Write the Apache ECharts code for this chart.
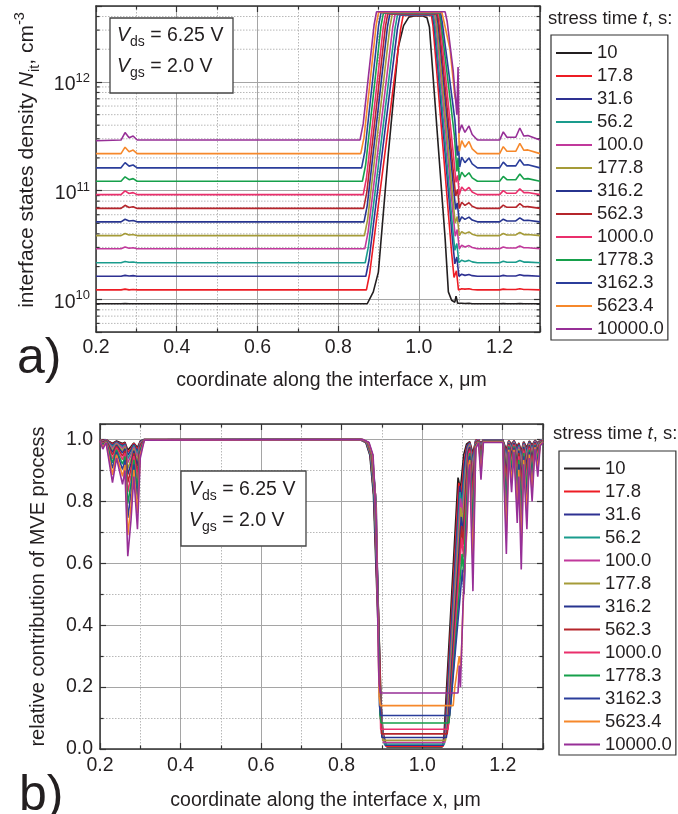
<!DOCTYPE html>
<html><head><meta charset="utf-8">
<script src="https://cdn.jsdelivr.net/npm/echarts@6/dist/echarts.min.js"></script>
<style>html,body{margin:0;padding:0;background:#fff}#c{width:678px;height:814px}</style>
</head><body><div id="c"></div>
<script>
// ---------- categories / legend ----------
const stressTimes = ['10','17.8','31.6','56.2','100.0','177.8','316.2','562.3','1000.0','1778.3','3162.3','5623.4','10000.0'];
const seriesColors = ['#231f20','#ed1c24','#2e3192','#1a9c8d','#c1399c','#a59b38','#27348f','#b5252b','#ea2f6c','#16a04b','#2b3e9b','#f6882b','#972f97'];

// ---------- panel a): interface states density ----------
const nitLeftX = [0.2, 0.262, 0.272, 0.282, 0.292, 0.302];
const nitRightX = [1.106, 1.114, 1.124, 1.132, 1.145, 1.2, 1.209, 1.218, 1.24, 1.25, 1.26, 1.27, 1.3];
const nitMinorTicks = [6e9,7e9,8e9,9e9,2e10,3e10,4e10,5e10,6e10,7e10,8e10,9e10,2e11,3e11,4e11,5e11,6e11,7e11,8e11,9e11,2e12,3e12,4e12];

const nit10Left = [9.1e9,9.1e9,9.15e9,9.1e9,9.1e9,9.1e9];
const nit10Mid = [[0.872,9.1e9],[0.887,1.17e10],[0.8996,1.78e10],[0.924,2.14e11],[0.949,2.1e12],[0.962,3.3e12],[0.975,3.95e12],[0.99,4.06e12],[1.01,4.05e12],[1.02,3.9e12],[1.026,3.2e12],[1.065,3.6e10],[1.073,1.17e10],[1.081,9.8e9],[1.089,9.4e9],[1.092,1.07e10],[1.096,9.2e9]];
const nit10Right = [9.2e9,9.15e9,9.2e9,9.1e9,9.1e9,9.1e9,9.15e9,9.1e9,9.1e9,9.15e9,9.1e9,9.1e9,9.1e9];

const nit17Left = [1.22e10,1.22e10,1.24e10,1.22e10,1.23e10,1.22e10];
const nit17Mid = [[0.87,1.22e10],[0.878,1.72e10],[0.955,3.11e12],[0.961,4.1e12],[1.031,4.1e12],[1.035,3.26e12],[1.081,2.68e10],[1.087,1.59e10],[1.093,1.83e10],[1.098,1.22e10]];
const nit17Right = [1.25e10,1.24e10,1.25e10,1.23e10,1.22e10,1.22e10,1.24e10,1.23e10,1.23e10,1.25e10,1.23e10,1.23e10,1.22e10];

const nit31Left = [1.63e10,1.63e10,1.66e10,1.64e10,1.65e10,1.63e10];
const nit31Mid = [[0.8685,1.63e10],[0.8765,2.3e10],[0.947,3.13e12],[0.953,4.12e12],[1.034,4.12e12],[1.038,3.27e12],[1.083,3.59e10],[1.089,2.12e10],[1.094,2.45e10],[1.099,1.63e10]];
const nit31Right = [1.7e10,1.66e10,1.69e10,1.65e10,1.63e10,1.63e10,1.66e10,1.64e10,1.64e10,1.68e10,1.65e10,1.65e10,1.63e10];

const nit56Left = [2.17e10,2.17e10,2.23e10,2.19e10,2.2e10,2.17e10];
const nit56Mid = [[0.867,2.17e10],[0.875,3.07e10],[0.941,3.15e12],[0.947,4.15e12],[1.036,4.15e12],[1.04,3.3e12],[1.083,4.77e10],[1.089,2.82e10],[1.094,3.26e10],[1.099,2.17e10]];
const nit56Right = [2.29e10,2.23e10,2.28e10,2.21e10,2.17e10,2.17e10,2.24e10,2.19e10,2.19e10,2.27e10,2.2e10,2.2e10,2.17e10];

const nit100Left = [2.92e10,2.92e10,3.03e10,2.95e10,2.98e10,2.92e10];
const nit100Mid = [[0.866,2.92e10],[0.874,4.13e10],[0.935,3.17e12],[0.941,4.18e12],[1.039,4.18e12],[1.043,3.32e12],[1.084,6.42e10],[1.09,3.8e10],[1.095,4.38e10],[1.1,2.92e10]];
const nit100Right = [3.14e10,3.03e10,3.12e10,3.0e10,2.92e10,2.92e10,3.03e10,2.96e10,2.96e10,3.09e10,2.98e10,2.98e10,2.92e10];

const nit178Left = [3.85e10,3.85e10,4.03e10,3.9e10,3.94e10,3.85e10];
const nit178Mid = [[0.865,3.85e10],[0.873,5.44e10],[0.928,3.19e12],[0.934,4.2e12],[1.041,4.2e12],[1.045,3.34e12],[1.084,8.47e10],[1.09,5.0e10],[1.095,5.78e10],[1.1,3.85e10]];
const nit178Right = [4.2e10,4.02e10,4.17e10,3.97e10,3.85e10,3.85e10,4.03e10,3.91e10,3.91e10,4.12e10,3.94e10,3.95e10,3.85e10];

const nit316Left = [5.16e10,5.16e10,5.45e10,5.25e10,5.31e10,5.16e10];
const nit316Mid = [[0.864,5.16e10],[0.872,7.29e10],[0.922,3.21e12],[0.928,4.23e12],[1.044,4.23e12],[1.048,3.36e12],[1.085,1.14e11],[1.091,6.71e10],[1.095,7.74e10],[1.1,5.16e10]];
const nit316Right = [5.74e10,5.44e10,5.7e10,5.36e10,5.16e10,5.16e10,5.46e10,5.26e10,5.26e10,5.61e10,5.31e10,5.33e10,5.16e10];

const nit562Left = [6.86e10,6.86e10,7.33e10,7.0e10,7.11e10,6.86e10];
const nit562Mid = [[0.863,6.86e10],[0.871,9.69e10],[0.917,3.23e12],[0.923,4.25e12],[1.046,4.25e12],[1.05,3.37e12],[1.085,1.51e11],[1.091,8.92e10],[1.096,1.03e11],[1.1,6.86e10]];
const nit562Right = [7.81e10,7.32e10,7.73e10,7.18e10,6.86e10,6.86e10,7.35e10,7.02e10,7.02e10,7.59e10,7.1e10,7.13e10,6.86e10];

const nit1000Left = [9.18e10,9.18e10,9.96e10,9.41e10,9.59e10,9.18e10];
const nit1000Mid = [[0.862,9.18e10],[0.87,1.3e11],[0.912,3.25e12],[0.918,4.28e12],[1.049,4.28e12],[1.053,3.4e12],[1.086,2.02e11],[1.092,1.19e11],[1.096,1.38e11],[1.1,9.18e10]];
const nit1000Right = [1.08e11,9.95e10,1.07e11,9.72e10,9.18e10,9.18e10,1.0e11,9.45e10,9.45e10,1.04e11,9.58e10,9.62e10,9.18e10];

const nit1778Left = [1.22e11,1.22e11,1.34e11,1.26e11,1.29e11,1.22e11];
const nit1778Mid = [[0.86,1.22e11],[0.868,1.72e11],[0.906,3.26e12],[0.912,4.3e12],[1.051,4.3e12],[1.055,3.5e12],[1.088,3.2e11],[1.094,1.5e11],[1.097,2.0e11],[1.1,1.25e11]];
const nit1778Right = [1.48e11,1.34e11,1.46e11,1.31e11,1.22e11,1.22e11,1.35e11,1.26e11,1.26e11,1.42e11,1.28e11,1.29e11,1.22e11];

const nit3162Left = [1.62e11,1.62e11,1.81e11,1.68e11,1.72e11,1.62e11];
const nit3162Mid = [[0.858,1.62e11],[0.866,2.29e11],[0.9,3.29e12],[0.906,4.33e12],[1.054,4.33e12],[1.058,3.5e12],[1.089,4.5e11],[1.095,2.1e11],[1.098,2.6e11],[1.101,1.65e11]];
const nit3162Right = [2.03e11,1.81e11,2.0e11,1.76e11,1.62e11,1.62e11,1.83e11,1.69e11,1.69e11,1.93e11,1.72e11,1.73e11,1.62e11];

const nit5623Left = [2.19e11,2.19e11,2.51e11,2.28e11,2.36e11,2.19e11];
const nit5623Mid = [[0.856,2.19e11],[0.864,3.09e11],[0.894,3.32e12],[0.9,4.37e12],[1.057,4.37e12],[1.062,3.6e12],[1.077,2.0e12],[1.089,7.4e11],[1.098,5.6e11],[1.1,2.3e11]];
const nit5623Right = [2.88e11,2.51e11,2.83e11,2.42e11,2.19e11,2.19e11,2.54e11,2.3e11,2.3e11,2.72e11,2.35e11,2.37e11,2.19e11];

const nit10000Left = [2.88e11,2.92e11,3.42e11,3.07e11,3.18e11,2.92e11];
const nit10000Mid = [[0.854,2.92e11],[0.862,4.13e11],[0.889,3.36e12],[0.895,4.42e12],[1.065,4.42e12],[1.07,3.6e12],[1.085,1.26e12],[1.094,5.0e11],[1.097,1.37e12],[1.099,3.4e11]];
const nit10000Right = [4.03e11,3.43e11,3.94e11,3.28e11,2.92e11,2.92e11,3.47e11,3.1e11,3.1e11,3.77e11,3.18e11,3.21e11,2.92e11];

// ---------- panel b): relative contribution of MVE ----------
const mveLeftX = [0.2, 0.207, 0.215, 0.231, 0.241, 0.256, 0.262, 0.269, 0.277, 0.284, 0.293, 0.3, 0.31];
const mveRightX = [1.118, 1.126, 1.133, 1.14, 1.146, 1.152, 1.2, 1.209, 1.215, 1.222, 1.228, 1.236, 1.24, 1.246, 1.252, 1.26, 1.266, 1.273, 1.28, 1.287, 1.293, 1.3];

const mve10Left = [1.0,0.997,0.999,0.987,0.995,0.987,0.991,0.966,0.977,0.989,0.974,0.995,1.0];
const mve10Well = [[0.845,1],[0.86,0.99],[0.87,0.95],[0.879,0.82],[0.889,0.45],[0.897,0.15],[0.903,0.05],[0.912,0.007],[1.05,0.007],[1.054,0.04],[1.089,0.877],[1.095,0.84],[1.103,0.95],[1.11,0.985]];
const mve10Right = [0.993,0.956,0.997,0.999,0.988,0.999,0.999,0.967,0.996,0.985,0.996,0.976,0.989,0.962,0.993,0.974,0.995,0.982,0.997,0.989,0.998,0.999];

const mve17Left = [0.999,0.997,0.999,0.985,0.993,0.984,0.989,0.959,0.971,0.987,0.968,0.993,1.0];
const mve17Well = [[0.846,1],[0.861,0.99],[0.871,0.95],[0.88,0.82],[0.89,0.45],[0.897,0.16],[0.902,0.055],[0.91,0.009],[1.052,0.009],[1.056,0.045],[1.091,0.86],[1.097,0.82],[1.104,0.93],[1.111,0.98]];
const mve17Right = [0.991,0.946,0.997,0.999,0.986,0.999,0.999,0.959,0.996,0.981,0.996,0.97,0.987,0.954,0.991,0.968,0.993,0.978,0.997,0.987,0.998,0.999];

const mve31Left = [0.999,0.996,0.999,0.981,0.992,0.98,0.986,0.949,0.965,0.984,0.961,0.992,1.0];
const mve31Well = [[0.846,1],[0.861,0.99],[0.871,0.95],[0.88,0.82],[0.89,0.45],[0.897,0.17],[0.901,0.06],[0.908,0.012],[1.053,0.012],[1.057,0.05],[1.093,0.85],[1.098,0.8],[1.105,0.92],[1.112,0.98]];
const mve31Right = [0.989,0.934,0.996,0.999,0.982,0.999,0.999,0.95,0.995,0.977,0.995,0.964,0.984,0.943,0.989,0.961,0.992,0.973,0.996,0.984,0.997,0.999];

const mve56Left = [0.999,0.995,0.998,0.977,0.99,0.976,0.983,0.938,0.957,0.98,0.952,0.99,1.0];
const mve56Well = [[0.847,1],[0.862,0.99],[0.872,0.95],[0.881,0.82],[0.891,0.45],[0.897,0.18],[0.901,0.065],[0.906,0.016],[1.055,0.016],[1.059,0.055],[1.094,0.83],[1.099,0.78],[1.106,0.9],[1.113,0.975]];
const mve56Right = [0.987,0.919,0.995,0.998,0.979,0.998,0.998,0.939,0.993,0.972,0.993,0.955,0.98,0.931,0.987,0.952,0.99,0.967,0.995,0.98,0.997,0.998];

const mve100Left = [0.999,0.994,0.998,0.972,0.988,0.971,0.98,0.925,0.948,0.976,0.942,0.988,1.0];
const mve100Well = [[0.848,1],[0.863,0.99],[0.873,0.95],[0.882,0.82],[0.891,0.45],[0.897,0.19],[0.9,0.07],[0.904,0.021],[1.056,0.021],[1.06,0.06],[1.095,0.81],[1.1,0.76],[1.107,0.885],[1.113,0.97]];
const mve100Right = [0.984,0.902,0.994,0.998,0.974,0.998,0.998,0.926,0.992,0.966,0.992,0.946,0.976,0.916,0.984,0.942,0.988,0.96,0.994,0.976,0.996,0.998];

const mve178Left = [0.999,0.992,0.997,0.965,0.985,0.964,0.975,0.906,0.935,0.97,0.927,0.985,1.0];
const mve178Well = [[0.848,1],[0.863,0.99],[0.873,0.95],[0.882,0.82],[0.892,0.42],[0.897,0.19],[0.899,0.08],[0.902,0.028],[1.058,0.028],[1.062,0.07],[1.096,0.78],[1.101,0.73],[1.107,0.86],[1.114,0.965]];
const mve178Right = [0.98,0.877,0.992,0.997,0.967,0.997,0.997,0.907,0.99,0.957,0.99,0.932,0.97,0.895,0.98,0.927,0.985,0.95,0.992,0.97,0.995,0.997];

const mve316Left = [0.998,0.991,0.997,0.958,0.982,0.956,0.97,0.887,0.922,0.964,0.913,0.982,0.999];
const mve316Well = [[0.849,1],[0.864,0.99],[0.874,0.95],[0.883,0.82],[0.892,0.42],[0.896,0.2],[0.898,0.09],[0.9,0.037],[1.06,0.037],[1.064,0.08],[1.097,0.75],[1.102,0.7],[1.108,0.84],[1.114,0.96]];
const mve316Right = [0.976,0.853,0.991,0.997,0.961,0.997,0.997,0.889,0.988,0.949,0.988,0.919,0.964,0.874,0.976,0.913,0.982,0.94,0.991,0.964,0.994,0.997];

const mve562Left = [0.998,0.989,0.996,0.949,0.978,0.946,0.963,0.861,0.904,0.956,0.893,0.978,0.999];
const mve562Well = [[0.85,1],[0.865,0.99],[0.875,0.95],[0.884,0.82],[0.892,0.4],[0.896,0.2],[0.897,0.1],[0.899,0.049],[1.062,0.049],[1.066,0.09],[1.098,0.72],[1.102,0.66],[1.108,0.82],[1.115,0.955]];
const mve562Right = [0.97,0.819,0.989,0.996,0.952,0.996,0.996,0.863,0.985,0.937,0.985,0.9,0.956,0.845,0.97,0.893,0.978,0.926,0.989,0.956,0.993,0.996];

const mve1000Left = [0.998,0.986,0.995,0.937,0.973,0.935,0.955,0.83,0.883,0.946,0.869,0.973,0.999];
const mve1000Well = [[0.85,1],[0.865,0.99],[0.875,0.95],[0.884,0.82],[0.892,0.38],[0.895,0.18],[0.897,0.064],[1.064,0.064],[1.068,0.11],[1.098,0.68],[1.103,0.62],[1.109,0.8],[1.115,0.95]];
const mve1000Right = [0.964,0.779,0.986,0.995,0.941,0.995,0.995,0.833,0.982,0.923,0.982,0.878,0.946,0.811,0.964,0.869,0.973,0.91,0.986,0.946,0.991,0.995];

const mve1778Left = [0.997,0.983,0.994,0.924,0.967,0.92,0.945,0.793,0.857,0.934,0.84,0.967,0.999];
const mve1778Well = [[0.851,1],[0.866,0.99],[0.876,0.95],[0.885,0.8],[0.892,0.36],[0.895,0.11],[0.898,0.084],[1.066,0.084],[1.07,0.13],[1.099,0.63],[1.103,0.57],[1.109,0.76],[1.116,0.94]];
const mve1778Right = [0.956,0.73,0.983,0.994,0.928,0.994,0.994,0.796,0.978,0.906,0.978,0.851,0.934,0.769,0.956,0.84,0.967,0.89,0.983,0.934,0.989,0.994];

const mve3162Left = [0.997,0.979,0.993,0.907,0.96,0.903,0.933,0.747,0.826,0.92,0.806,0.96,0.999];
const mve3162Well = [[0.851,1],[0.867,0.99],[0.877,0.95],[0.886,0.78],[0.892,0.35],[0.894,0.14],[0.897,0.108],[1.068,0.108],[1.072,0.16],[1.1,0.58],[1.104,0.5],[1.11,0.72],[1.116,0.93]];
const mve3162Right = [0.946,0.672,0.98,0.993,0.913,0.993,0.993,0.752,0.973,0.886,0.973,0.819,0.92,0.719,0.946,0.806,0.96,0.866,0.98,0.92,0.987,0.993];

const mve5623Left = [0.996,0.975,0.992,0.886,0.951,0.881,0.918,0.691,0.787,0.902,0.762,0.951,0.998];
const mve5623Well = [[0.852,1],[0.867,0.99],[0.877,0.95],[0.886,0.76],[0.891,0.34],[0.893,0.17],[0.896,0.14],[1.077,0.14],[1.081,0.2],[1.092,0.3],[1.096,0.26],[1.104,0.55],[1.11,0.68],[1.116,0.92]];
const mve5623Right = [0.934,0.598,0.975,0.992,0.893,0.992,0.992,0.697,0.967,0.861,0.967,0.779,0.902,0.656,0.934,0.762,0.951,0.836,0.975,0.902,0.984,0.992];

const mve10000Left = [0.995,0.969,0.99,0.861,0.94,0.855,0.9,0.623,0.74,0.88,0.71,0.94,0.998];
const mve10000Well = [[0.853,1],[0.868,0.99],[0.878,0.95],[0.886,0.74],[0.891,0.3],[0.893,0.21],[0.896,0.181],[1.089,0.181],[1.092,0.27],[1.095,0.2],[1.101,0.45],[1.106,0.6],[1.112,0.75],[1.116,0.9]];
const mve10000Right = [0.92,0.51,0.97,0.99,0.87,0.99,0.99,0.63,0.96,0.83,0.96,0.73,0.88,0.58,0.92,0.71,0.94,0.8,0.97,0.88,0.98,0.99];

// ---------- assembly ----------
const nitParts = [
  [nit10Left,nit10Mid,nit10Right],[nit17Left,nit17Mid,nit17Right],[nit31Left,nit31Mid,nit31Right],
  [nit56Left,nit56Mid,nit56Right],[nit100Left,nit100Mid,nit100Right],[nit178Left,nit178Mid,nit178Right],
  [nit316Left,nit316Mid,nit316Right],[nit562Left,nit562Mid,nit562Right],[nit1000Left,nit1000Mid,nit1000Right],
  [nit1778Left,nit1778Mid,nit1778Right],[nit3162Left,nit3162Mid,nit3162Right],[nit5623Left,nit5623Mid,nit5623Right],
  [nit10000Left,nit10000Mid,nit10000Right]];
const mveParts = [
  [mve10Left,mve10Well,mve10Right],[mve17Left,mve17Well,mve17Right],[mve31Left,mve31Well,mve31Right],
  [mve56Left,mve56Well,mve56Right],[mve100Left,mve100Well,mve100Right],[mve178Left,mve178Well,mve178Right],
  [mve316Left,mve316Well,mve316Right],[mve562Left,mve562Well,mve562Right],[mve1000Left,mve1000Well,mve1000Right],
  [mve1778Left,mve1778Well,mve1778Right],[mve3162Left,mve3162Well,mve3162Right],[mve5623Left,mve5623Well,mve5623Right],
  [mve10000Left,mve10000Well,mve10000Right]];

const zip = (xs, ys) => xs.map((x, i) => [x, ys[i]]);
const FONT = '"Liberation Sans", Arial, sans-serif';
const INK = '#231f20';
const X_MIN = 0.2, X_MAX = 1.3;

const series = [];
series.push({
  type: 'custom', name: 'minorLogGrid', xAxisIndex: 0, yAxisIndex: 0, z: 1, silent: true,
  data: nitMinorTicks.map(v => [X_MIN, v]), encode: { x: 0, y: 1 },
  renderItem: (params, api) => {
    const cs = params.coordSys;
    const y = api.coord([api.value(0), api.value(1)])[1];
    const x0 = cs.x, x1 = cs.x + cs.width;
    return { type: 'group', children: [
      { type: 'line', shape: { x1: x0, y1: y, x2: x1, y2: y }, style: { stroke: '#b8b8b8', lineWidth: 1, lineDash: [1.5, 1.5] } },
      { type: 'line', shape: { x1: x0, y1: y, x2: x0 + 3.5, y2: y }, style: { stroke: '#333', lineWidth: 1.2 } },
      { type: 'line', shape: { x1: x1 - 3.5, y1: y, x2: x1, y2: y }, style: { stroke: '#333', lineWidth: 1.2 } }
    ]};
  }
});
stressTimes.forEach((name, i) => {
  const p = nitParts[i];
  series.push({
    type: 'line', name, xAxisIndex: 0, yAxisIndex: 0, z: 3,
    data: [...zip(nitLeftX, p[0]), ...p[1], ...zip(nitRightX, p[2])],
    symbol: 'none', lineStyle: { width: 1.6, color: seriesColors[i] }, itemStyle: { color: seriesColors[i] }
  });
});
stressTimes.forEach((name, i) => {
  const p = mveParts[i];
  series.push({
    type: 'line', name, xAxisIndex: 2, yAxisIndex: 2, z: 3,
    data: [...zip(mveLeftX, p[0]), ...p[1], ...zip(mveRightX, p[2])],
    symbol: 'none', lineStyle: { width: 1.6, color: seriesColors[i] }, itemStyle: { color: seriesColors[i] }
  });
});

const axLine = { show: true, onZero: false, lineStyle: { color: '#333', width: 1.5 } };
const tick = { show: true, inside: true, length: 6, lineStyle: { color: '#333', width: 1.2 } };
const mtick = { show: true, splitNumber: 2, length: 3.5, lineStyle: { color: '#333', width: 1.2 } };
const major = { show: true, lineStyle: { color: '#a5a5a5', width: 1 } };
const minor = { show: true, lineStyle: { color: '#b8b8b8', width: 1, type: [1.5, 1.5] } };
const fmt02 = v => (Math.abs(v * 5 - Math.round(v * 5)) < 1e-6 ? v.toFixed(1) : '');
const logFmt = v => { const l = Math.log10(v); const e = Math.round(l); return Math.abs(l - e) < 1e-6 ? '{b|10}{s|' + e + '}' : ''; };

function xAxisCfg(gridIndex, position, name, nameGap, pad, margin) {
  const main = position === 'bottom';
  return {
    type: 'value', gridIndex, position, min: X_MIN, max: X_MAX, interval: 0.2,
    axisLine: axLine, axisTick: tick, minorTick: mtick,
    axisLabel: { show: main, formatter: fmt02, fontSize: 19.5, color: INK, fontFamily: FONT, margin },
    splitLine: { ...major, show: main }, minorSplitLine: { ...minor, show: main },
    name: main ? name : '', nameLocation: 'middle', nameGap,
    nameTextStyle: { fontSize: 19.5, color: INK, fontFamily: FONT, padding: [0, 0, 0, pad] }
  };
}

const richName = {
  i: { fontStyle: 'italic', fontSize: 21, lineHeight: 30, verticalAlign: 'middle', fontFamily: FONT, color: INK },
  sub: { fontSize: 14.5, lineHeight: 14, verticalAlign: 'bottom', fontFamily: FONT, color: INK },
  n: { fontSize: 21, lineHeight: 30, verticalAlign: 'middle', fontFamily: FONT, color: INK },
  sup: { fontSize: 14.5, lineHeight: 14, verticalAlign: 'top', fontFamily: FONT, color: INK }
};

const legendCommon = {
  data: stressTimes, orient: 'vertical', itemWidth: 36, itemHeight: 2, itemGap: 4, icon: 'rect',
  borderColor: '#333', borderWidth: 1.2, selectedMode: false,
  textStyle: { fontSize: 18.5, lineHeight: 18, color: INK, fontFamily: FONT }
};

const option = {
  animation: false,
  backgroundColor: '#fff',
  textStyle: { fontFamily: FONT },
  grid: [
    { left: 96, top: 6, width: 444, height: 326 },
    { left: 100, top: 424, width: 443, height: 325 }
  ],
  xAxis: [
    xAxisCfg(0, 'bottom', 'coordinate along the interface x, μm', 39, 27, 6),
    xAxisCfg(0, 'top', '', 0, 0, 6),
    xAxisCfg(1, 'bottom', 'coordinate along the interface x, μm', 42, 8, 7),
    xAxisCfg(1, 'top', '', 0, 0, 7)
  ],
  yAxis: [
    { type: 'log', logBase: 10, gridIndex: 0, position: 'left', min: 5e9, max: 5e12,
      axisLine: axLine, axisTick: tick,
      axisLabel: { formatter: logFmt, margin: 6, color: INK, fontFamily: FONT, padding: [6, 0, 0, 0],
        rich: { b: { fontSize: 19.5, lineHeight: 26, verticalAlign: 'middle', color: INK, fontFamily: FONT },
                s: { fontSize: 13, lineHeight: 13, verticalAlign: 'top', color: INK, fontFamily: FONT } } },
      splitLine: major,
      name: 'interface states density {i|N}{sub|it}{n|, cm}{sup|-3}', nameLocation: 'middle', nameGap: 54,
      nameTextStyle: { fontSize: 21, lineHeight: 30, color: INK, fontFamily: FONT, rich: richName, padding: [0, 0, 0, 18] } },
    { type: 'log', logBase: 10, gridIndex: 0, position: 'right', min: 5e9, max: 5e12,
      axisLine: axLine, axisTick: tick, axisLabel: { show: false }, splitLine: { show: false } },
    { type: 'value', gridIndex: 1, position: 'left', min: 0, max: 1.05, interval: 0.2,
      axisLine: axLine, axisTick: tick, minorTick: mtick,
      axisLabel: { formatter: fmt02, fontSize: 19.5, color: INK, fontFamily: FONT, margin: 7 },
      splitLine: major, minorSplitLine: minor,
      name: 'relative contribution of MVE process', nameLocation: 'middle', nameGap: 52,
      nameTextStyle: { fontSize: 20, color: INK, fontFamily: FONT } },
    { type: 'value', gridIndex: 1, position: 'right', min: 0, max: 1.05, interval: 0.2,
      axisLine: axLine, axisTick: tick, minorTick: mtick, axisLabel: { show: false },
      splitLine: { show: false }, minorSplitLine: { show: false } }
  ],
  legend: [
    { ...legendCommon, left: 551, top: 35, padding: [8.5, 4, 1.5, 5] },
    { ...legendCommon, left: 559, top: 451, padding: [8, 4, 1, 5] }
  ],
  graphic: (function () {
    const richV = {
      v: { fontStyle: 'italic', fontSize: 19.5, lineHeight: 26, verticalAlign: 'middle', fontFamily: FONT, fill: INK },
      s: { fontSize: 14, lineHeight: 12, verticalAlign: 'bottom', fontFamily: FONT, fill: INK },
      n: { fontSize: 19.5, lineHeight: 26, verticalAlign: 'middle', fontFamily: FONT, fill: INK }
    };
    const richT = {
      n: { fontSize: 18.5, fontFamily: FONT, fill: INK },
      i: { fontSize: 18.5, fontStyle: 'italic', fontFamily: FONT, fill: INK }
    };
    const box = (x, y, w, h) => ({ type: 'rect', z: 100, shape: { x, y, width: w, height: h }, style: { fill: '#fff', stroke: '#444', lineWidth: 1.3 } });
    const txt = (x, y, text, rich) => ({ type: 'text', z: 101, x, y, style: { text, rich, verticalAlign: 'middle', align: 'left', fill: INK, fontFamily: FONT } });
    return [
      box(110, 18, 123, 75),
      txt(117, 36, '{v|V}{s|ds}{n| = 6.25 V}', richV),
      txt(117, 67, '{v|V}{s|gs}{n| = 2.0 V}', richV),
      box(181, 471, 125, 75),
      txt(189, 490, '{v|V}{s|ds}{n| = 6.25 V}', richV),
      txt(189, 521, '{v|V}{s|gs}{n| = 2.0 V}', richV),
      txt(548, 18.5, '{n|stress time }{i|t}{n|, s:}', richT),
      txt(553, 433.5, '{n|stress time }{i|t}{n|, s:}', richT),
      { type: 'text', z: 101, x: 17, y: 359, style: { text: 'a)', fontSize: 50, fontFamily: FONT, fill: INK, verticalAlign: 'middle' } },
      { type: 'text', z: 101, x: 19, y: 796, style: { text: 'b)', fontSize: 50, fontFamily: FONT, fill: INK, verticalAlign: 'middle' } }
    ];
  })(),
  series
};

const chart = echarts.init(document.getElementById('c'), null, { renderer: 'canvas' });
chart.setOption(option);
</script>
</body></html>
